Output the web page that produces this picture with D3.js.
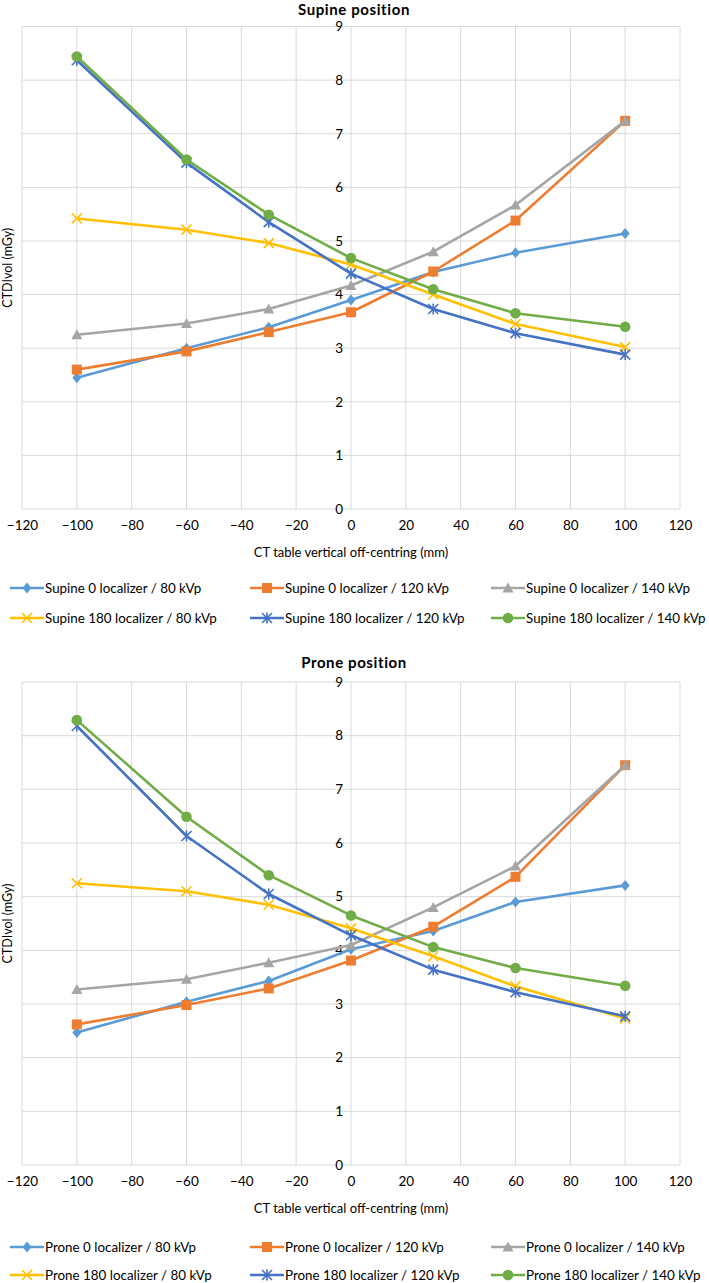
<!DOCTYPE html>
<html><head><meta charset="utf-8">
<script src="https://cdn.jsdelivr.net/npm/d3@7"></script>
<style>
html,body{margin:0;padding:0;background:#fff;}
text{font-family:"Lato","Open Sans",sans-serif;fill:#000;}
</style></head>
<body><svg id="c" width="709" height="1283"></svg>
<script>
const offsets = [-100, -60, -30, 0, 30, 60, 100];
const xTicks = [-120,-100,-80,-60,-40,-20,0,20,40,60,80,100,120];
const yTicks = [0,1,2,3,4,5,6,7,8,9];

const supineNames = ["Supine 0 localizer / 80 kVp","Supine 0 localizer / 120 kVp","Supine 0 localizer / 140 kVp",
  "Supine 180 localizer / 80 kVp","Supine 180 localizer / 120 kVp","Supine 180 localizer / 140 kVp"];
const supine0_80   = [2.45, 3.00, 3.39, 3.90, 4.42, 4.78, 5.14];
const supine0_120  = [2.60, 2.94, 3.30, 3.67, 4.43, 5.38, 7.24];
const supine0_140  = [3.25, 3.46, 3.73, 4.17, 4.80, 5.67, 7.24];
const supine180_80 = [5.42, 5.21, 4.96, 4.56, 4.00, 3.45, 3.02];
const supine180_120= [8.37, 6.46, 5.35, 4.39, 3.73, 3.28, 2.88];
const supine180_140= [8.44, 6.52, 5.49, 4.68, 4.10, 3.65, 3.40];

const proneNames = ["Prone 0 localizer / 80 kVp","Prone 0 localizer / 120 kVp","Prone 0 localizer / 140 kVp",
  "Prone 180 localizer / 80 kVp","Prone 180 localizer / 120 kVp","Prone 180 localizer / 140 kVp"];
const prone0_80   = [2.47, 3.04, 3.43, 4.02, 4.36, 4.90, 5.21];
const prone0_120  = [2.62, 2.98, 3.29, 3.81, 4.44, 5.37, 7.45];
const prone0_140  = [3.27, 3.46, 3.77, 4.10, 4.80, 5.57, 7.45];
const prone180_80 = [5.25, 5.10, 4.85, 4.41, 3.89, 3.33, 2.73];
const prone180_120= [8.18, 6.13, 5.05, 4.28, 3.64, 3.22, 2.77];
const prone180_140= [8.29, 6.49, 5.40, 4.65, 4.06, 3.67, 3.34];

const colors = ["#5B9BD5","#ED7D31","#A5A5A5","#FFC000","#4472C4","#70AD47"];
const markers = ["diamond","square","triangle","x","star","circle"];

const svg = d3.select("#c");

function marker(g, type, x, y, color){
  const s = 5;
  if(type==="diamond"){
    g.append("path").attr("d",`M${x},${y-s-0.5}L${x+s-0.5},${y}L${x},${y+s+0.5}L${x-s+0.5},${y}Z`).attr("fill",color);
  } else if(type==="square"){
    g.append("rect").attr("x",x-s).attr("y",y-s).attr("width",2*s).attr("height",2*s).attr("fill",color);
  } else if(type==="triangle"){
    g.append("path").attr("d",`M${x},${y-s-0.5}L${x+s+0.5},${y+s-0.5}L${x-s-0.5},${y+s-0.5}Z`).attr("fill",color);
  } else if(type==="circle"){
    g.append("circle").attr("cx",x).attr("cy",y).attr("r",s+0.3).attr("fill",color);
  } else if(type==="x"){
    g.append("path").attr("d",`M${x-s},${y-s}L${x+s},${y+s}M${x-s},${y+s}L${x+s},${y-s}`).attr("stroke",color).attr("stroke-width",1.6);
  } else if(type==="star"){
    g.append("path").attr("d",`M${x-s},${y-s}L${x+s},${y+s}M${x-s},${y+s}L${x+s},${y-s}M${x},${y-s-0.5}L${x},${y+s+0.5}`).attr("stroke",color).attr("stroke-width",1.6);
  }
}

function drawChart(cfg){
  const g = svg.append("g");
  const x = d3.scaleLinear().domain([-120,120]).range([22,680]);
  const y = d3.scaleLinear().domain([0,9]).range([cfg.y0, cfg.y9]);

  g.append("text").attr("x",354).attr("y",cfg.titleY).attr("text-anchor","middle")
    .attr("font-family","'Liberation Sans', Arial, sans-serif")
    .attr("font-weight","bold").attr("font-size",15).attr("letter-spacing",0.6).text(cfg.title);

  const grid = g.append("g").attr("stroke","#d9d9d9").attr("stroke-width",1);
  xTicks.forEach(t=>grid.append("line").attr("x1",x(t)).attr("x2",x(t)).attr("y1",y(0)).attr("y2",y(9)));
  yTicks.forEach(t=>grid.append("line").attr("x1",x(-120)).attr("x2",x(120)).attr("y1",y(t)).attr("y2",y(t)));

  const xa = g.append("g").attr("transform",`translate(0,${y(0)})`)
    .call(d3.axisBottom(x).tickValues(xTicks).tickSize(0).tickPadding(11));
  xa.select(".domain").remove();
  xa.selectAll("text").attr("font-size",13.5).attr("font-family","Lato, sans-serif");
  const ya = g.append("g").attr("transform",`translate(${x(0)-8},0)`)
    .call(d3.axisLeft(y).tickValues(yTicks).tickSize(0).tickPadding(0));
  ya.select(".domain").remove();
  ya.selectAll("text").attr("font-size",13.5).attr("font-family","Lato, sans-serif");

  g.append("text").attr("x",351).attr("y",y(0)+48).attr("text-anchor","middle")
    .attr("font-size",13).text("CT table vertical off-centring (mm)");
  g.append("text").attr("transform",`translate(12,${(y(0)+y(9))/2}) rotate(-90)`).attr("text-anchor","middle")
    .attr("font-size",12.5).text("CTDIvol (mGy)");

  const line = d3.line().x((d,i)=>x(offsets[i])).y(d=>y(d));
  cfg.series.forEach((s,k)=>{
    g.append("path").datum(s).attr("d",line).attr("fill","none").attr("stroke",colors[k])
      .attr("stroke-width",2.6).attr("stroke-linejoin","round");
    const mg = g.append("g");
    s.forEach((v,i)=>marker(mg, markers[k], x(offsets[i]), y(v), colors[k]));
  });

  const lx = [10, 250, 491];
  cfg.names.forEach((n,k)=>{
    const col = k%3, row = Math.floor(k/3);
    const ly = cfg.legendY + row*cfg.legendDy;
    const lg = g.append("g");
    lg.append("line").attr("x1",lx[col]).attr("x2",lx[col]+34).attr("y1",ly).attr("y2",ly)
      .attr("stroke",colors[k]).attr("stroke-width",2.6);
    marker(lg, markers[k], lx[col]+17, ly, colors[k]);
    lg.append("text").attr("x",lx[col]+35).attr("y",ly).attr("dy","0.35em").attr("font-size",13.4).text(n);
  });
}

drawChart({title:"Supine position", titleY:14.5, y0:509, y9:26.5, legendY:588, legendDy:30,
  names:supineNames, series:[supine0_80,supine0_120,supine0_140,supine180_80,supine180_120,supine180_140]});
drawChart({title:"Prone position", titleY:668, y0:1165, y9:682, legendY:1247, legendDy:28,
  names:proneNames, series:[prone0_80,prone0_120,prone0_140,prone180_80,prone180_120,prone180_140]});
</script></body></html>
